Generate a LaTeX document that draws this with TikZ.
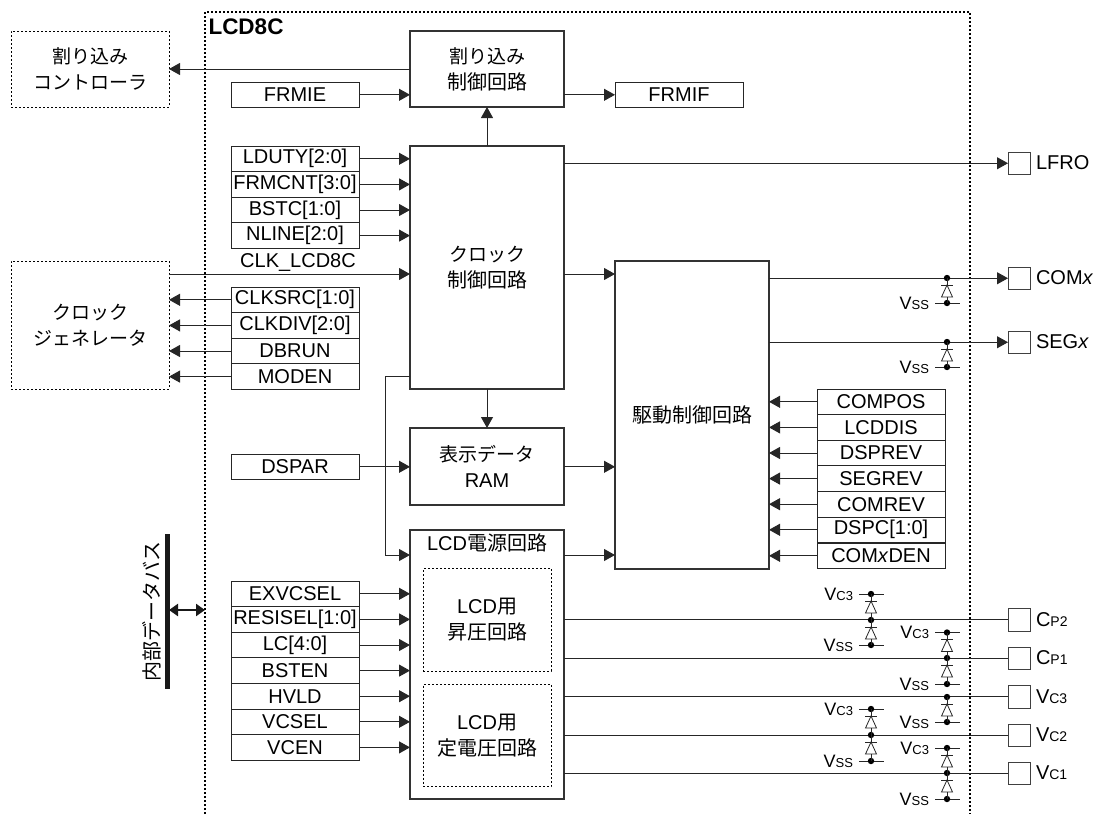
\documentclass[tikz,border=0pt]{standalone}
\usepackage{fontspec}
\usetikzlibrary{arrows.meta,calc}
\setmainfont{Liberation Sans}
\newfontfamily\cjk{Noto Sans CJK JP}
\newcommand\jp[1]{{\cjk\fontsize{19}{26}\selectfont #1}}
\newcommand\jk[1]{{\cjk\fontsize{20}{26}\selectfont #1}}
\newcommand\smc[1]{{\fontsize{14}{14}\selectfont #1}}
\newcommand\vsub[2]{{\fontsize{18}{18}\selectfont #1}{\fontsize{13}{13}\selectfont #2}}
\tikzset{
  x=1pt,y=-1pt,
  every node/.style={font=\fontsize{20}{26}\selectfont,inner sep=0pt,outer sep=0pt},
  bigbox/.style={draw=black!80,line width=1.5pt,fill=white,align=center,anchor=north west},
  regbox/.style={draw=black!85,line width=1pt,fill=white,align=center,anchor=north west,minimum width=128pt,minimum height=25.6pt},
  extbox/.style={draw=black,line width=1pt,dash pattern=on 2pt off 2pt,align=center,anchor=north west},
  innerbox/.style={draw=black,line width=1pt,dash pattern=on 2pt off 2pt,align=center,anchor=north west,minimum width=128pt,minimum height=102.5pt},
  padbox/.style={draw=black!75,line width=1pt,fill=white,anchor=north west,minimum width=22pt,minimum height=22.5pt},
  wire/.style={draw=black!85,line width=1pt},
  arr/.style={wire,-{Triangle[length=11pt,width=12pt]}},
  dio/.style={draw=black!85,line width=0.8pt},
}
% \rail{x}{y}{name}: rail dot with its stub
\newcommand\rail[3]{%
  \coordinate (#3) at (#1,#2);
  \draw[wire] ($(#3)+(-12,0)$) -- ($(#3)+(13,0)$);
  \fill[black] (#3) circle (3.2pt);
}
% diode between named top and bottom points
\newcommand\diode[2]{%
  \draw[dio] (#1) -- ($(#1)+(0,7)$);
  \draw[dio] ($(#1)+(-6,7)$) -- ($(#1)+(6,7)$);
  \draw[dio] ($(#1)+(0,7)$) -- ($(#1)+(-5.5,19)$) -- ($(#1)+(5.5,19)$) -- cycle;
  \draw[dio] ($(#1)+(0,19)$) -- (#2);
}
\newcommand\railwire[3]{%
  \coordinate (#3) at (#1,#2);
  \fill[black] (#3) circle (3.2pt);
}
\begin{document}
\begin{tikzpicture}
\useasboundingbox (0,0) rectangle (1107,814);
% outer block
\draw[black,line width=2pt,dash pattern=on 2pt off 2pt] (205,814) -- (205,12) -- (970,12) -- (970,814);
\node[anchor=west,font=\fontsize{22.5}{22.5}\selectfont\bfseries] (title) at (208.5,27) {LCD8C};

% external blocks
\node[extbox,minimum width=158pt,minimum height=76pt] (intc) at (11,31) {\jp{割り込み}\\\jp{コントローラ}};
\node[extbox,minimum width=158pt,minimum height=128pt] (cgen) at (11,261) {\jp{クロック}\\\jp{ジェネレータ}};

% main blocks
\node[bigbox,minimum width=154pt,minimum height=76pt] (irq) at (410,31) {\jp{割り込み}\\\jk{制御回路}};
\node[bigbox,minimum width=154pt,minimum height=243pt] (clk) at (410,146) {\jp{クロック}\\\jk{制御回路}};
\node[bigbox,minimum width=154pt,minimum height=77pt] (ram) at (410,428) {\jp{表示データ}\\RAM};
\node[bigbox,minimum width=154pt,minimum height=269pt] (pwr) at (410,530) {};
\node[anchor=center] (pwrlab) at (487,543) {LCD\jk{電源回路}};
\node[innerbox] (boost) at (423,568.5) {LCD\jk{用}\\\jk{昇圧回路}};
\node[innerbox] (reg) at (423,684) {LCD\jk{用}\\\jk{定電圧回路}};
\node[bigbox,minimum width=154pt,minimum height=308pt] (drv) at (615,261) {\jk{駆動制御回路}};

% registers
\node[regbox] (frmie) at (231,82) {FRMIE};
\node[regbox] (frmif) at (615,82) {FRMIF};
\node[regbox] (lduty) at (231,146) {LDUTY[2:0]};
\node[regbox] (frmcnt) at (231,171.6) {FRMCNT[3:0]};
\node[regbox] (bstc) at (231,197.2) {BSTC[1:0]};
\node[regbox] (nline) at (231,222.8) {NLINE[2:0]};
\node[regbox] (clksrc) at (231,287) {CLKSRC[1:0]};
\node[regbox] (clkdiv) at (231,312.6) {CLKDIV[2:0]};
\node[regbox] (dbrun) at (231,338.2) {DBRUN};
\node[regbox] (moden) at (231,363.8) {MODEN};
\node[regbox] (dspar) at (231,454) {DSPAR};
\node[regbox] (exv) at (231,581) {EXVCSEL};
\node[regbox] (resi) at (231,606.6) {RESISEL[1:0]};
\node[regbox] (lc) at (231,632.2) {LC[4:0]};
\node[regbox] (bsten) at (231,657.8) {BSTEN};
\node[regbox] (hvld) at (231,683.4) {HVLD};
\node[regbox] (vcsel) at (231,709) {VCSEL};
\node[regbox] (vcen) at (231,734.6) {VCEN};
\node[regbox] (compos) at (817,389) {COMPOS};
\node[regbox] (lcddis) at (817,414.6) {LCDDIS};
\node[regbox] (dsprev) at (817,440.2) {DSPREV};
\node[regbox] (segrev) at (817,465.8) {SEGREV};
\node[regbox] (comrev) at (817,491.4) {COMREV};
\node[regbox] (dspc) at (817,517) {DSPC[1:0]};
\node[regbox] (comden) at (817,543) {COM\textit{x}DEN};

% pads
\node[padbox] (lfro) at (1008,152) {};
\node[padbox] (comx) at (1008,267) {};
\node[padbox] (segx) at (1008,331) {};
\node[padbox] (cp2) at (1008,608.5) {};
\node[padbox] (cp1) at (1008,647) {};
\node[padbox] (vc3) at (1008,685.5) {};
\node[padbox] (vc2) at (1008,724) {};
\node[padbox] (vc1) at (1008,762) {};
\node[anchor=west] (tlfro) at (1036,163) {LFRO};
\node[anchor=west] (tcomx) at (1036,278) {COM\textit{x}};
\node[anchor=west] (tsegx) at (1036,342) {SEG\textit{x}};
\node[anchor=west] (tcp2) at (1036,620) {C\smc{P2}};
\node[anchor=west] (tcp1) at (1036,658) {C\smc{P1}};
\node[anchor=west] (tvc3) at (1036,697) {V\smc{C3}};
\node[anchor=west] (tvc2) at (1036,735) {V\smc{C2}};
\node[anchor=west] (tvc1) at (1036,773) {V\smc{C1}};

% interrupt and clock connectors
\draw[arr] (irq.west |- intc.east) -- (intc.east);
\draw[arr] (frmie.east) -- (frmie.east -| irq.west);
\draw[arr] (irq.south east |- frmif.west) -- (frmif.west);
\draw[arr] (clk.north) -- (irq.south);
\foreach \r in {lduty,frmcnt,bstc,nline}{\draw[arr] (\r.east) -- (\r.east -| clk.west);}
\coordinate (clkin) at (169,274);
\draw[arr] (clkin) -- (clkin -| clk.west);
\node (clklab) at (298,262) {CLK\_LCD8C};
\foreach \r in {clksrc,clkdiv,dbrun,moden}{\draw[arr] (\r.west) -- (\r.west -| cgen.east);}
\draw[arr] (clk.south) -- (ram.north);
\coordinate (clkdrv) at (564,274);
\draw[arr] (clkdrv) -- (clkdrv -| drv.west);
\draw[arr] (clk.east |- lfro.west) -- (lfro.west);
\coordinate (clkpwr) at (410,376);
\coordinate (pwrin) at (410,555);
\draw[arr] (clkpwr) -- (385,376) -- (385,555) -- (pwrin);
\draw[arr] (dspar.east) -- (dspar.east -| ram.west);
\draw[arr] (ram.east |- dspar.east) -- (drv.west |- dspar.east);
\coordinate (pwrdrv) at (564,555);
\draw[arr] (pwrdrv) -- (pwrdrv -| drv.west);
\foreach \r in {compos,lcddis,dsprev,segrev,comrev,dspc,comden}{\draw[arr] (\r.west) -- (\r.west -| drv.east);}
\foreach \r in {exv,resi,lc,bsten,hvld,vcsel,vcen}{\draw[arr] (\r.east) -- (\r.east -| pwr.west);}

% driver outputs
\draw[arr] (drv.east |- comx.west) -- (comx.west);
\draw[arr] (drv.east |- segx.west) -- (segx.west);

% power outputs
\foreach \p in {cp2,cp1,vc3,vc2,vc1}{\draw[wire] (pwr.east |- \p.west) -- (\p.west);}

% clamp diodes
\railwire{947}{278}{a0}\rail{947}{303}{a1}\diode{a0}{a1}
\node[anchor=east] (la1) at (929,303) {\vsub{V}{SS}};
\railwire{947}{342}{b0}\rail{947}{367}{b1}\diode{b0}{b1}
\node[anchor=east] (lb1) at (929,367) {\vsub{V}{SS}};

\rail{871}{594}{c0}\railwire{871}{620}{c1}\rail{871}{645}{c2}\diode{c0}{c1}\diode{c1}{c2}
\node[anchor=east] (lc0) at (853,594) {\vsub{V}{C3}};
\node[anchor=east] (lc2) at (853,645) {\vsub{V}{SS}};

\rail{947}{632.5}{d0}\railwire{947}{658}{d1}\rail{947}{684}{d2}\diode{d0}{d1}\diode{d1}{d2}
\node[anchor=east] (ld0) at (929,632.5) {\vsub{V}{C3}};
\node[anchor=east] (ld2) at (929,684) {\vsub{V}{SS}};

\railwire{947}{697}{e0}\rail{947}{722}{e1}\diode{e0}{e1}
\node[anchor=east] (le1) at (929,722) {\vsub{V}{SS}};

\rail{871}{709}{f0}\railwire{871}{735}{f1}\rail{871}{761}{f2}\diode{f0}{f1}\diode{f1}{f2}
\node[anchor=east] (lf0) at (853,709) {\vsub{V}{C3}};
\node[anchor=east] (lf2) at (853,761) {\vsub{V}{SS}};

\rail{947}{748}{g0}\railwire{947}{773}{g1}\rail{947}{799}{g2}\diode{g0}{g1}\diode{g1}{g2}
\node[anchor=east] (lg0) at (929,748) {\vsub{V}{C3}};
\node[anchor=east] (lg2) at (929,799) {\vsub{V}{SS}};

% internal bus
\draw[black!90,line width=5pt] (167,534) -- (167,689);
\coordinate (busl) at (169,610);
\coordinate (busr) at (205,610);
\draw[black!90,line width=2.5pt,{Triangle[length=9pt,width=12pt]}-{Triangle[length=9pt,width=12pt]}] (busl) -- (busr);
\node[rotate=90] (buslab) at (152,611) {\jk{内部データバス}};
\end{tikzpicture}
\end{document}
